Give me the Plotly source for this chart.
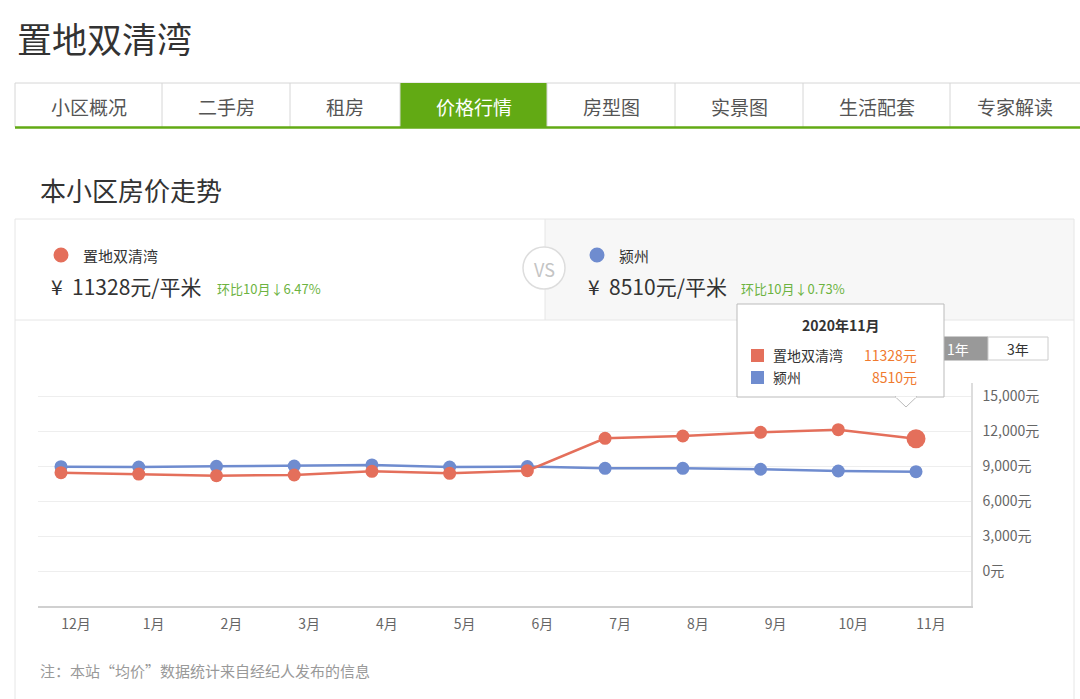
import plotly.graph_objects as go

months = ["12月", "1月", "2月", "3月", "4月", "5月", "6月", "7月", "8月", "9月", "10月", "11月"]
community_name = "置地双清湾"
city_name = "颍州"
community_prices = [8430, 8310, 8170, 8230, 8540, 8370, 8600, 11370, 11570, 11890, 12112, 11328]
city_prices = [8940, 8910, 8970, 9000, 9090, 8910, 8950, 8800, 8800, 8720, 8573, 8510]
y_ticks = [0, 3000, 6000, 9000, 12000, 15000]
tabs = ["小区概况", "二手房", "租房", "价格行情", "房型图", "实景图", "生活配套", "专家解读"]
active_tab = "价格行情"
range_tabs = ["1年", "3年"]

W, H = 1080, 699
FONT = "Noto Sans CJK SC, Noto Sans, sans-serif"
RED = "#E46F5B"
BLUE = "#6F8CCF"
GREEN = "#62AA14"


def px(x):
    return x / W


def py(y):
    return 1 - y / H


fig = go.Figure()
x_idx = list(range(len(months)))
red_sizes = [13] * (len(months) - 1) + [19]
fig.add_trace(go.Scatter(x=x_idx, y=city_prices, mode="lines+markers", name=city_name,
                         line=dict(color=BLUE, width=2.5),
                         marker=dict(size=13, color=BLUE, opacity=1, line=dict(width=0)),
                         hoverinfo="skip"))
fig.add_trace(go.Scatter(x=x_idx, y=community_prices, mode="lines+markers", name=community_name,
                         line=dict(color=RED, width=2.5),
                         marker=dict(size=red_sizes, color=RED, opacity=1, line=dict(width=0)),
                         hoverinfo="skip"))

shapes = []
ann = []


def text(x, y, s, size, color="#333", anchor="left", bold=False, yanchor="middle"):
    if bold:
        s = "<b>" + s + "</b>"
    dx = -2 if anchor == "left" else 0
    ann.append(dict(x=px(x + dx), y=py(y), xref="paper", yref="paper", text=s, showarrow=False,
                    xanchor=anchor, yanchor=yanchor, font=dict(size=size, color=color, family=FONT)))


def rect(x0, y0, x1, y1, fill=None, line=None, lw=1, layer="above"):
    shapes.append(dict(type="rect", xref="paper", yref="paper", x0=px(x0), x1=px(x1), y0=py(y1), y1=py(y0),
                       fillcolor=fill if fill else "rgba(0,0,0,0)",
                       line=dict(color=line if line else "rgba(0,0,0,0)", width=lw if line else 0),
                       layer=layer))


def hline(x0, x1, y, color, w=1, layer="above"):
    shapes.append(dict(type="line", xref="paper", yref="paper", x0=px(x0), x1=px(x1), y0=py(y), y1=py(y),
                       line=dict(color=color, width=w), layer=layer))


def vline(x, y0, y1, color, w=1, layer="above"):
    shapes.append(dict(type="line", xref="paper", yref="paper", x0=px(x), x1=px(x), y0=py(y0), y1=py(y1),
                       line=dict(color=color, width=w), layer=layer))


def circle(cx, cy, r, fill=None, line=None, lw=1):
    shapes.append(dict(type="circle", xref="paper", yref="paper", x0=px(cx - r), x1=px(cx + r),
                       y0=py(cy + r), y1=py(cy - r), fillcolor=fill if fill else "rgba(0,0,0,0)",
                       line=dict(color=line if line else "rgba(0,0,0,0)", width=lw if line else 0),
                       layer="above"))


# Page title
text(17, 37, community_name, 35, "#333")

# Tabs
bounds = [15, 162, 290, 400, 547, 675, 803, 950, 1080]
hline(15, 1080, 83, "#d6d6d6")
for i, t in enumerate(tabs):
    x0, x1 = bounds[i], bounds[i + 1]
    if t == active_tab:
        rect(x0, 83, x1, 128, fill=GREEN)
        text((x0 + x1) / 2, 106, t, 19, "#ffffff", anchor="center")
    else:
        text((x0 + x1) / 2, 106, t, 19, "#555", anchor="center")
    if i > 0:
        vline(x0, 83, 127, "#d6d6d6")
vline(15, 83, 127, "#d6d6d6")
hline(15, 1080, 127.5, GREEN, w=2.5)

# Section title
text(40, 190, "本小区房价走势", 26, "#333")

# Container
rect(545, 219, 1074, 320, fill="#f7f7f7", layer="below")
rect(15, 219, 1074, 720, line="#e6e6e6", layer="below")
hline(15, 1074, 320, "#e6e6e6", layer="below")
vline(545, 219, 320, "#e6e6e6", layer="below")

# VS circle
circle(544, 268, 21, fill="#ffffff", line="#dddddd", lw=1.5)
text(544, 269, "VS", 18, "#c4c4c4", anchor="center")

# Left summary
circle(61, 255, 7.5, fill=RED)
text(83, 255, community_name, 15, "#333")
text(51, 286, "¥&nbsp;&nbsp;" + str(community_prices[-1]) + "元/平米", 21, "#333")
pct_c = (community_prices[-2] - community_prices[-1]) / community_prices[-2] * 100
text(217, 288, "环比10月↓%.2f%%" % pct_c, 13, "#6DB33F")

# Right summary
circle(597, 255, 7.5, fill=BLUE)
text(619, 255, city_name, 15, "#333")
text(588, 286, "¥&nbsp;&nbsp;" + str(city_prices[-1]) + "元/平米", 21, "#333")
pct_b = (city_prices[-2] - city_prices[-1]) / city_prices[-2] * 100
text(741, 288, "环比10月↓%.2f%%" % pct_b, 13, "#6DB33F")

# Range tabs
rect(940, 337, 988, 360, fill="#999999", line="#999999")
text(958, 348.5, range_tabs[0], 14, "#ffffff", anchor="center")
rect(988, 337, 1048, 360, fill="#ffffff", line="#cccccc")
text(1018, 348.5, range_tabs[1], 14, "#333", anchor="center")

# Tooltip
rect(737, 304, 944, 397, fill="#ffffff", line="#bbbbbb")
shapes.append(dict(type="path", xref="paper", yref="paper",
                   path="M %f %f L %f %f L %f %f Z" % (px(895), py(396.5), px(906), py(407), px(917), py(396.5)),
                   fillcolor="#ffffff", line=dict(color="#bbbbbb", width=1), layer="above"))
hline(895.8, 916.2, 397, "#ffffff", w=1.5)
text(841, 325, "2020年11月", 14, "#333", anchor="center", bold=True)
rect(751, 349, 764, 362, fill=RED)
text(773, 355.5, community_name, 14, "#333")
text(919, 355.5, str(community_prices[-1]) + "元", 14, "#F07A2E", anchor="right")
rect(751, 371, 764, 384, fill=BLUE)
text(773, 377.5, city_name, 14, "#333")
text(919, 377.5, str(city_prices[-1]) + "元", 14, "#F07A2E", anchor="right")

# Footnote
text(40, 670, "注：本站“均价”数据统计来自经纪人发布的信息", 15, "#999")

# Axes: plot area from x 38..971, y 383..606
x_left, x_right = 38, 971
first_pt, last_pt = 61, 916
step = (last_pt - first_pt) / 11
xr = [-(first_pt - x_left) / step, 11 + (x_right - last_pt) / step]
y_top, y_bot = 383, 606
ppu = 35 / 3000
yr = [-(y_bot - 571) / ppu, (571 - y_top) / ppu]

fig.update_layout(
    width=W, height=H,
    margin=dict(l=0, r=0, t=0, b=0),
    paper_bgcolor="#ffffff", plot_bgcolor="#ffffff",
    showlegend=False,
    font=dict(family=FONT),
    xaxis=dict(domain=[px(x_left), px(x_right)], range=xr, tickmode="array", tickvals=x_idx,
               ticktext=months, showgrid=False, zeroline=False, showline=True, linecolor="#d0d0d0",
               linewidth=1.5, ticks="", tickfont=dict(size=14, color="#666"), ticklabelshift=15,
               ticklabelstandoff=4, fixedrange=True),
    yaxis=dict(domain=[py(y_bot), py(y_top)], range=yr, side="right", tickmode="array", tickvals=y_ticks,
               ticktext=["{:,}元".format(v) for v in y_ticks], showgrid=True, gridcolor="#eeeeee",
               gridwidth=1, zeroline=False, showline=True, linecolor="#dddddd", linewidth=1.5, ticks="",
               tickfont=dict(size=14, color="#666"), ticklabelstandoff=7, fixedrange=True),
    shapes=shapes,
    annotations=ann,
)

fig.write_html("out.html")
